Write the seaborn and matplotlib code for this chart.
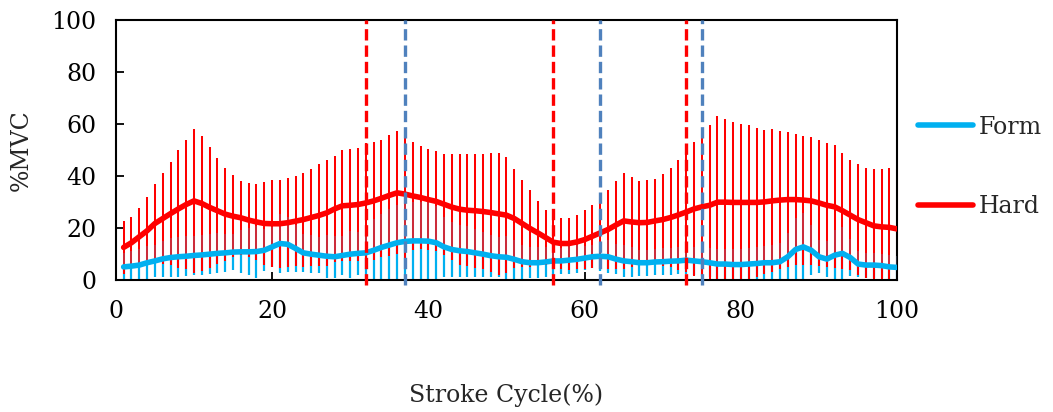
import numpy as np
import pandas as pd
import matplotlib
matplotlib.use("Agg")
import matplotlib.pyplot as plt
import seaborn as sns
from matplotlib.lines import Line2D

# ---- data -------------------------------------------------------------
cycle = list(range(1, 101))

hard_mean = [12.6, 14.4, 16.7, 19.0, 21.8, 23.7, 25.6, 27.4, 29.1, 30.5,
             29.5, 28.0, 26.7, 25.4, 24.6, 24.0, 23.1, 22.4, 21.8, 21.7,
             21.7, 22.1, 22.7, 23.3, 24.1, 24.9, 25.9, 27.4, 28.6, 28.8,
             29.1, 29.7, 30.5, 31.5, 32.6, 33.6, 33.1, 32.4, 31.8, 31.0,
             30.3, 29.2, 28.1, 27.3, 26.9, 26.7, 26.4, 26.0, 25.5, 25.0,
             23.7, 21.8, 19.9, 18.2, 16.4, 14.6, 14.1, 14.1, 14.7, 15.6,
             16.9, 18.2, 19.5, 21.2, 22.8, 22.4, 22.1, 22.2, 22.8, 23.3,
             24.1, 25.1, 26.2, 27.4, 28.2, 28.8, 30.0, 30.0, 29.9, 29.9,
             29.9, 29.9, 30.1, 30.5, 30.8, 31.0, 31.0, 30.8, 30.5, 29.7,
             28.8, 28.2, 26.7, 25.0, 23.3, 22.1, 20.9, 20.5, 20.3, 19.7]

hard_sd = [10.2, 10.0, 10.9, 12.8, 15.3, 17.6, 19.8, 22.6, 24.9, 27.6,
           26.1, 23.2, 20.4, 17.9, 15.7, 14.2, 14.3, 14.5, 15.9, 16.8,
           17.0, 17.1, 17.3, 18.1, 18.6, 19.6, 20.3, 20.4, 21.4, 21.5,
           21.7, 23.1, 22.7, 22.6, 23.2, 23.6, 24.4, 20.7, 19.7, 19.4,
           19.2, 19.5, 20.4, 21.4, 21.6, 21.9, 22.2, 22.9, 23.6, 22.2,
           19.0, 16.7, 14.7, 12.3, 10.5, 10.0, 9.9, 10.0, 10.3, 11.3,
           12.2, 13.8, 15.1, 16.9, 18.5, 17.2, 16.1, 16.3, 16.3, 17.7,
           19.2, 21.3, 23.1, 25.7, 28.2, 30.8, 33.3, 32.1, 31.0, 30.1,
           29.7, 28.8, 27.8, 27.5, 26.5, 25.8, 25.2, 24.8, 24.6, 24.1,
           23.8, 23.7, 22.3, 21.2, 21.2, 21.2, 21.9, 22.3, 22.8, 23.0]

form_mean = [5.1, 5.4, 5.8, 6.7, 7.4, 8.2, 8.7, 9.0, 9.2, 9.5,
             9.7, 10.0, 10.3, 10.5, 10.8, 10.9, 10.9, 11.0, 11.5, 12.8,
             14.1, 13.8, 12.2, 10.5, 10.0, 9.6, 9.2, 9.0, 9.5, 10.0,
             10.3, 10.5, 11.5, 12.6, 13.5, 14.4, 14.9, 15.1, 15.1, 15.0,
             14.4, 12.8, 11.8, 11.3, 11.0, 10.5, 10.0, 9.4, 9.0, 8.8,
             8.0, 7.1, 6.7, 6.7, 7.0, 7.4, 7.4, 7.7, 8.0, 8.5,
             9.0, 9.2, 9.0, 8.1, 7.4, 7.1, 6.7, 6.7, 7.0, 7.1,
             7.3, 7.4, 7.7, 7.4, 7.1, 6.7, 6.2, 6.2, 6.0, 6.0,
             6.2, 6.4, 6.7, 6.7, 7.1, 9.0, 11.8, 12.8, 11.5, 9.0,
             8.1, 9.6, 10.3, 8.7, 6.2, 5.8, 5.8, 5.6, 5.1, 4.9]

form_sd = [5.5, 5.8, 6.0, 6.5, 6.1, 6.9, 7.4, 7.7, 7.7, 7.6,
           7.8, 7.7, 7.7, 7.3, 6.9, 8.3, 9.0, 10.0, 8.0, 7.7,
           11.5, 10.6, 9.0, 7.3, 7.4, 7.0, 8.3, 8.1, 7.6, 9.1,
           8.4, 10.0, 12.0, 13.0, 14.0, 14.5, 15.0, 15.0, 15.0, 15.0,
           14.0, 11.5, 10.5, 10.0, 9.7, 9.2, 8.7, 8.1, 7.7, 8.2,
           7.4, 6.5, 6.0, 6.0, 5.7, 5.5, 5.1, 5.4, 5.4, 4.6,
           4.5, 5.5, 6.4, 5.8, 6.1, 5.8, 5.0, 5.0, 5.0, 5.1,
           5.2, 5.2, 5.5, 5.5, 5.5, 5.5, 5.6, 5.6, 5.8, 6.0,
           6.2, 6.4, 6.5, 6.7, 7.1, 9.0, 12.0, 13.0, 9.6, 6.4,
           7.0, 9.6, 10.0, 7.2, 4.9, 4.8, 4.8, 4.6, 4.5, 4.5]

hard_events = [32, 56, 73]
form_events = [37, 62, 75]

series_names = ["Form", "Hard"]
x_ticks = [0, 20, 40, 60, 80, 100]
y_ticks = [0, 20, 40, 60, 80, 100]

# ---- style ------------------------------------------------------------
sns.set_style("ticks")
plt.rcParams["font.family"] = ["DejaVu Serif"]
plt.rcParams["font.size"] = 17

BLUE = "#00B0F0"
RED = "#FF0000"
DASH_BLUE = "#4F81BD"
GREY_BLUE = "#6E7FA8"

df = pd.DataFrame({
    "cycle": cycle * 2,
    "value": form_mean + hard_mean,
    "group": ["Form"] * len(cycle) + ["Hard"] * len(cycle),
})

fig = plt.figure(figsize=(10.53, 4.12), dpi=100)
ax = fig.add_axes([0.110, 0.320, 0.742, 0.631])

fm = np.array(form_mean)
fs = np.array(form_sd)
hm = np.array(hard_mean)
hs = np.array(hard_sd)

# error bars
ax.vlines(cycle, fm - fs, fm, color=BLUE, lw=1.6, zorder=1)
ax.vlines(cycle, hm - hs, hm + hs, color=RED, lw=1.45, zorder=2)
ax.vlines(cycle, fm, fm + fs, color=GREY_BLUE, lw=1.45, alpha=0.35, zorder=3)

# mean lines
sns.lineplot(data=df, x="cycle", y="value", hue="group",
             hue_order=series_names, palette=[BLUE, RED],
             linewidth=4.0, ax=ax, zorder=5, legend=False)
for ln in ax.lines:
    ln.set_solid_capstyle("round")

# event lines
for xv in hard_events:
    ax.axvline(xv, ymin=-0.02, ymax=1.0, color=RED, lw=2.4,
               linestyle=(0, (3.4, 1.5)), zorder=6, clip_on=False)
for xv in form_events:
    ax.axvline(xv, ymin=-0.02, ymax=1.0, color=DASH_BLUE, lw=2.4,
               linestyle=(0, (3.4, 1.5)), zorder=6, clip_on=False)

ax.set_xlim(0, 100)
ax.set_ylim(0, 100)
ax.set_xticks(x_ticks)
ax.set_yticks(y_ticks)
ax.tick_params(axis="both", direction="in", length=6, width=1.3,
               labelsize=17, colors="black")
ax.tick_params(axis="x", pad=14)
ax.tick_params(axis="y", pad=14)
for sp in ax.spines.values():
    sp.set_visible(True)
    sp.set_linewidth(1.5)
    sp.set_color("black")

ax.set_xlabel("Stroke Cycle(%)", fontsize=17, labelpad=44)
ax.set_ylabel("%MVC", fontsize=17, labelpad=13)

handles = [Line2D([0], [0], color=BLUE, lw=4, solid_capstyle="round"),
           Line2D([0], [0], color=RED, lw=4, solid_capstyle="round")]
fig.legend(handles, series_names, loc="center left",
           bbox_to_anchor=(0.872, 0.595), frameon=False, fontsize=17,
           handlelength=2.3, handletextpad=0.25, labelspacing=2.4,
           borderpad=0, borderaxespad=0)

fig.savefig("out.png", dpi=100)
